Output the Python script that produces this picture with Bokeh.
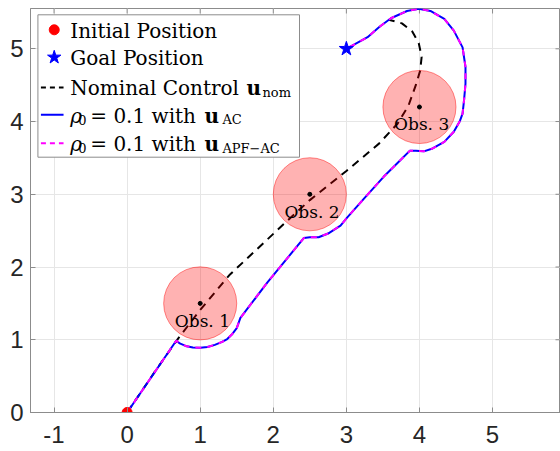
from bokeh.plotting import figure
from bokeh.models import Range1d, FixedTicker
from bokeh.core.properties import value
from bokeh.embed import file_html
from bokeh.resources import INLINE

# ---------------- data ----------------
x_ticks = [-1, 0, 1, 2, 3, 4, 5]
x_tick_labels = ["-1", "0", "1", "2", "3", "4", "5"]
y_ticks = [0, 1, 2, 3, 4, 5]

start_x = [0.0]
start_y = [0.0]
goal_x = [3.0]
goal_y = [5.0]

obs_x = [1.0, 2.5, 4.0]
obs_y = [1.5, 3.0, 4.2]
obs_r = [0.5, 0.5, 0.5]
obs_labels = ["Obs. 1", "Obs. 2", "Obs. 3"]

# nominal control trajectory (u_nom)
nom_x = [0.0, 0.4, 0.7, 1.0, 1.4, 1.75, 2.1, 2.5, 3.0, 3.45, 3.7, 3.85,
         3.95, 4.01, 4.03, 3.99, 3.9, 3.76, 3.58]
nom_y = [0.0, 0.59, 1.02, 1.41, 1.89, 2.22, 2.55, 2.92, 3.32, 3.70, 3.97, 4.22,
         4.5, 4.7, 4.89, 5.08, 5.24, 5.35, 5.40]

# rho0 = 0.1 with u_AC
ac_x = [0.0, 0.674, 0.72, 0.8, 0.9, 1.0, 1.1, 1.2, 1.3, 1.37, 1.44, 1.5, 1.55,
        1.92, 2.42, 2.5, 2.62, 2.75, 2.92, 3.01, 3.25, 3.51, 3.7, 3.87, 3.95,
        4.06, 4.18, 4.34, 4.47, 4.55, 4.59, 4.61, 4.63, 4.63, 4.59, 4.47, 4.34,
        4.15, 3.99, 3.83, 3.61, 3.45, 3.29, 3.0]
ac_y = [0.0, 0.99, 0.95, 0.915, 0.895, 0.89, 0.9, 0.93, 0.97, 1.01, 1.08, 1.16, 1.3,
        1.79, 2.40, 2.41, 2.41, 2.46, 2.57, 2.68, 2.95, 3.24, 3.43, 3.60, 3.60,
        3.59, 3.63, 3.72, 3.86, 4.0, 4.11, 4.29, 4.52, 4.75, 5.02, 5.25, 5.41,
        5.52, 5.55, 5.52, 5.42, 5.30, 5.16, 5.0]

# rho0 = 0.1 with u_APF-AC (coincides with u_AC)
apf_x = list(ac_x)
apf_y = list(ac_y)

# ---------------- figure ----------------
GRAY = "#8c8c8c"
X0, X1, Y0, Y1 = -1.322, 5.93, 0.0, 5.554
p = figure(frame_width=530, frame_height=404,
           x_range=Range1d(X0, X1), y_range=Range1d(Y0, Y1),
           output_backend="svg", toolbar_location=None,
           min_border_left=30, min_border_right=0, min_border_top=8,
           min_border_bottom=39)
p.background_fill_color = "white"
p.border_fill_color = "white"
p.outline_line_color = GRAY

for ax, ticks in ((p.xaxis[0], x_ticks), (p.yaxis[0], y_ticks)):
    ax.ticker = FixedTicker(ticks=ticks)
    ax.major_tick_in = 5
    ax.major_tick_out = 0
    ax.minor_tick_line_color = None
    ax.axis_line_color = GRAY
    ax.major_tick_line_color = GRAY
    ax.major_label_text_font = "Liberation Sans"
    ax.major_label_text_font_size = "24px"
    ax.major_label_text_color = "#262626"
p.xaxis.major_label_overrides = {t: s for t, s in zip(x_ticks, x_tick_labels)}
p.xaxis.major_label_standoff = 13
p.yaxis.major_label_standoff = 7

p.xgrid.ticker = FixedTicker(ticks=x_ticks)
p.ygrid.ticker = FixedTicker(ticks=y_ticks)
p.grid.grid_line_color = "#e6e6e6"
p.grid.grid_line_width = 1

# inward ticks on the top and right edges of the box (5 px long)
tx = 5.0 / 73.0
ty = 5.0 / 72.74
p.segment(x0=x_ticks, x1=x_ticks, y0=[Y1] * len(x_ticks), y1=[Y1 - ty] * len(x_ticks),
          line_color=GRAY, line_width=1)
p.segment(x0=[X1] * len(y_ticks), x1=[X1 - tx] * len(y_ticks), y0=y_ticks, y1=y_ticks,
          line_color=GRAY, line_width=1)

# trajectories
p.line(nom_x, nom_y, line_color="black", line_width=2, line_dash="8 6")
p.line(ac_x, ac_y, line_color="#0000ff", line_width=2)
p.line(apf_x, apf_y, line_color="#ff00ff", line_width=2, line_dash="6 6")

# obstacles
p.circle(x=obs_x, y=obs_y, radius=obs_r, fill_color="red", fill_alpha=0.3,
         line_color="red", line_alpha=0.45, line_width=1)
p.scatter(obs_x, obs_y, size=4, color="black")
p.text(x=[v + 0.03 for v in obs_x], y=[v - 0.24 for v in obs_y], text=obs_labels,
       text_font=value("DejaVu Serif"), text_font_size="17px", text_color="black",
       text_align="center", text_baseline="middle")

# start / goal
p.scatter(start_x, start_y, size=10, color="red")
p.scatter(goal_x, goal_y, marker="star", size=15, color="#0000ff")

# ---------------- legend (drawn by hand) ----------------
def lx(px):
    return (px - 126.8) / 73.0

def ly(py):
    return (412.0 - py) / 72.74

p.quad(left=[lx(37.7)], right=[lx(299)], top=[ly(14.3)], bottom=[ly(156.7)],
       fill_color="white", line_color=GRAY, line_width=1)

row_c = [29.3, 56.8, 87.0, 114.3, 142.8]
mid = [c + 1 for c in row_c]
sub = [c + 5 for c in row_c]

p.scatter([lx(54)], [ly(row_c[0])], size=10, color="red")
p.scatter([lx(54)], [ly(row_c[1])], marker="star", size=14, color="#0000ff")
p.line([lx(40.7), lx(63.3)], [ly(row_c[2])] * 2, line_color="black", line_width=2, line_dash="5 4")
p.line([lx(40.7), lx(63.3)], [ly(row_c[3])] * 2, line_color="#0000ff", line_width=2)
p.line([lx(40.7), lx(63.3)], [ly(row_c[4])] * 2, line_color="#ff00ff", line_width=2, line_dash="5 4")

serif = value("DejaVu Serif")
norm_x = [lx(70), lx(70), lx(70), lx(90), lx(90)]
norm_y = [ly(mid[0]), ly(mid[1]), ly(mid[2]), ly(mid[3]), ly(mid[4])]
norm_t = ["Initial Position", "Goal Position", "Nominal Control", "= 0.1 with", "= 0.1 with"]
p.text(x=norm_x, y=norm_y, text=norm_t, text_font=serif, text_font_size="20px",
       text_color="black", text_align="left", text_baseline="middle")

p.text(x=[lx(70), lx(70)], y=[ly(mid[3]), ly(mid[4])], text=["ρ", "ρ"],
       text_font=serif, text_font_size="20px", text_font_style="italic",
       text_color="black", text_align="left", text_baseline="middle")

p.text(x=[lx(246), lx(204), lx(204)], y=[ly(mid[2]), ly(mid[3]), ly(mid[4])],
       text=["u", "u", "u"], text_font=serif, text_font_size="20px",
       text_font_style="bold", text_color="black", text_align="left",
       text_baseline="middle")

p.text(x=[lx(78), lx(78), lx(262), lx(222), lx(222)],
       y=[ly(sub[3]), ly(sub[4]), ly(sub[2]), ly(sub[3]), ly(sub[4])],
       text=["0", "0", "nom", "AC", "APF−AC"], text_font=serif, text_font_size="13px",
       text_color="black", text_align="left", text_baseline="middle")

open("out.html", "w").write(file_html(p, INLINE))
